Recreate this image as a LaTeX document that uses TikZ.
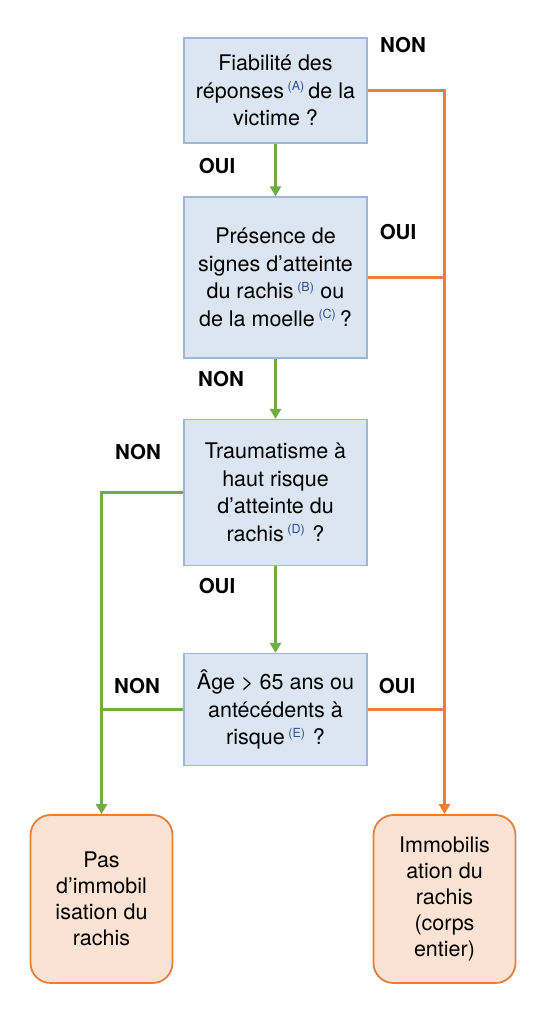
\documentclass[tikz,border=0pt]{standalone}
\usepackage{fontspec}
\setmainfont{TeX Gyre Heros}
\usepackage{tikz}
\usetikzlibrary{arrows.meta}

\definecolor{qfill}{HTML}{DCE6F2}
\definecolor{qdraw}{HTML}{9DB7D8}
\definecolor{rfill}{HTML}{FBE3D3}
\definecolor{rdraw}{HTML}{E2803E}
\definecolor{ouigreen}{HTML}{70AD47}
\definecolor{nonorange}{HTML}{EB7F36}
\definecolor{refblue}{HTML}{2F4F8F}

\begin{document}
\begin{tikzpicture}[x=1pt,y=-1pt]
    \tikzstyle{edge}=[line width=2.8pt]
    \tikzstyle{yes}=[edge,draw=ouigreen]
    \tikzstyle{no}=[edge,draw=nonorange]
    \tikzstyle{tip}=[-{Triangle[width=11pt,length=10pt]}]
    \tikzstyle{question}=[rectangle,draw=qdraw,fill=qfill,line width=1.3pt,minimum width=183pt,inner sep=0pt,align=center,font=\fontsize{21.5}{27.5}\selectfont]
    \tikzstyle{result}=[rectangle,rounded corners=20pt,draw=rdraw,fill=rfill,line width=1.8pt,minimum width=142pt,minimum height=168pt,inner sep=0pt,align=center,font=\fontsize{21.5}{26}\selectfont]
    \tikzstyle{answer}=[font=\bfseries\fontsize{20.5}{20.5}\selectfont,inner sep=0pt]

    \def\rf#1{\textsuperscript{\color{refblue}\fontsize{12.5}{12.5}\selectfont(#1)}}

    \def\C{275.5}
    \def\L{101.5}
    \def\R{444.5}

    \useasboundingbox (0,0) rectangle (556,1024);

    \node[question,minimum height=105pt] (q1) at (\C, 90.5)  {Fiabilité des\\réponses\,\rf{A}\,de la\\victime ?};
    \node[question,minimum height=161pt] (q2) at (\C, 277.5) {Présence de\\signes d’atteinte\\du rachis\,\rf{B} ou\\de la moelle\,\rf{C}\,?};
    \node[question,minimum height=146pt] (q3) at (\C, 492.5) {Traumatisme à\\haut risque\\d’atteinte du\\rachis\,\rf{D}\,\,?};
    \node[question,minimum height=112pt] (q4) at (\C, 709.5) {Âge > 65 ans ou\\antécédents à\\risque\,\rf{E}\,\,?};

    \node[result] (r1) at (\L, 899) {Pas\\d’immobil\\isation du\\rachis};
    \node[result] (r2) at (\R, 899) {Immobilis\\ation du\\rachis\\(corps\\entier)};

    \node[answer] (a1) at (403, 45)  {NON};
    \node[answer] (a2) at (217, 166) {OUI};
    \node[answer] (a3) at (398, 232) {OUI};
    \node[answer] (a4) at (221, 379) {NON};
    \node[answer] (a5) at (138, 452) {NON};
    \node[answer] (a6) at (217, 586) {OUI};
    \node[answer] (a7) at (137, 686) {NON};
    \node[answer] (a8) at (397, 686) {OUI};

    \path[yes,tip] (q1) -- (q2);
    \path[yes,tip] (q2) -- (q3);
    \path[yes,tip] (q3) -- (q4);
    \path[yes,tip] (q3.west) -| (r1.north);
    \path[yes] (q4.west) -- (q4.west -| r1.north);

    \path[no,tip] (q1.east) -| (r2.north);
    \path[no] (q2.east) -- (q2.east -| r2.north);
    \path[no] (q4.east) -- (q4.east -| r2.north);
\end{tikzpicture}
\end{document}
